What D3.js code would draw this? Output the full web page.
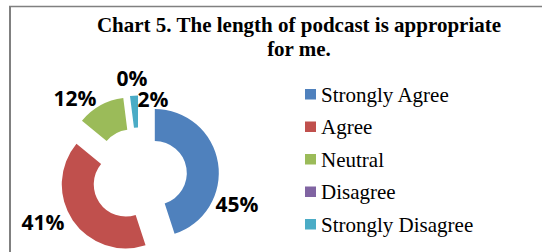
<!DOCTYPE html>
<html>
<head>
<meta charset="utf-8">
<script src="https://cdn.jsdelivr.net/npm/d3@7"></script>
<style>
  html, body { margin: 0; padding: 0; background: #fff; }
  svg { display: block; }
</style>
</head>
<body>
<div id="chart"></div>
<script>
"use strict";

// Data
var categories = ["Strongly Agree", "Agree", "Neutral", "Disagree", "Strongly Disagree"];
var values = [45, 41, 12, 0, 2];
var labels = ["45%", "41%", "12%", "0%", "2%"];
var colors = ["#4F81BD", "#C0504D", "#9BBB59", "#8064A2", "#4BACC6"];
var titleLines = ["Chart 5. The length of podcast is appropriate", "for me."];

var width = 542, height = 252;

let svg = d3.select("#chart").append("svg")
  .attr("width", width)
  .attr("height", height);

// Frame (only top and left edges are visible)
svg.append("line")
  .attr("x1", 9).attr("y1", 6.5).attr("x2", width).attr("y2", 6.5)
  .attr("stroke", "#808080").attr("stroke-width", 1.5);
svg.append("line")
  .attr("x1", 10).attr("y1", 6).attr("x2", 10).attr("y2", height)
  .attr("stroke", "#808080").attr("stroke-width", 2);

// Title
svg.append("text")
  .attr("x", 299)
  .attr("y", 32)
  .attr("text-anchor", "middle")
  .attr("font-family", "'Liberation Serif', 'Times New Roman', serif")
  .attr("font-weight", "bold")
  .attr("font-size", "21px")
  .attr("fill", "#000")
  .selectAll("tspan")
  .data(titleLines)
  .enter().append("tspan")
  .attr("x", 299)
  .attr("dy", function(d, i) { return i === 0 ? 0 : 24; })
  .text(function(d) { return d; });

// Doughnut
var cx = 139, cy = 175.5;
var outerR = 64, innerR = 32, explode = 16;

var pie = d3.pie().sort(null).value(function(d) { return d; });
var arc = d3.arc().innerRadius(innerR).outerRadius(outerR);
var arcs = pie(values);

let g = svg.append("g").attr("transform", "translate(" + cx + "," + cy + ")");

g.selectAll("path")
  .data(arcs)
  .enter().append("path")
  .attr("transform", function(d) {
    var a = (d.startAngle + d.endAngle) / 2;
    return "translate(" + (Math.sin(a) * explode) + "," + (-Math.cos(a) * explode) + ")";
  })
  .attr("d", arc)
  .style("fill", function(d, i) { return colors[i]; });

// Data labels (positions)
var labelPos = [[237, 212], [43, 230], [75, 106], [132, 86], [153, 107]];
svg.selectAll("text.lbl")
  .data(labels)
  .enter().append("text")
  .attr("class", "lbl")
  .attr("x", function(d, i) { return labelPos[i][0]; })
  .attr("y", function(d, i) { return labelPos[i][1]; })
  .attr("text-anchor", "middle")
  .attr("font-family", "'Open Sans', sans-serif")
  .attr("font-weight", "bold")
  .attr("font-size", "21px")
  .attr("fill", "#000")
  .text(function(d) { return d; });

// Legend
var legendY = d3.scalePoint().domain(categories).range([94, 224]);
let lg = svg.selectAll("g.legend")
  .data(categories)
  .enter().append("g")
  .attr("class", "legend")
  .attr("transform", function(d) { return "translate(305," + legendY(d) + ")"; });

lg.append("rect")
  .attr("x", 0)
  .attr("y", -5)
  .attr("width", 11)
  .attr("height", 10.5)
  .style("fill", function(d, i) { return colors[i]; });

lg.append("text")
  .attr("x", 16)
  .attr("y", 7.5)
  .attr("font-family", "'Liberation Serif', 'Times New Roman', serif")
  .attr("font-size", "21px")
  .attr("fill", "#000")
  .text(function(d) { return d; });
</script>
</body>
</html>
